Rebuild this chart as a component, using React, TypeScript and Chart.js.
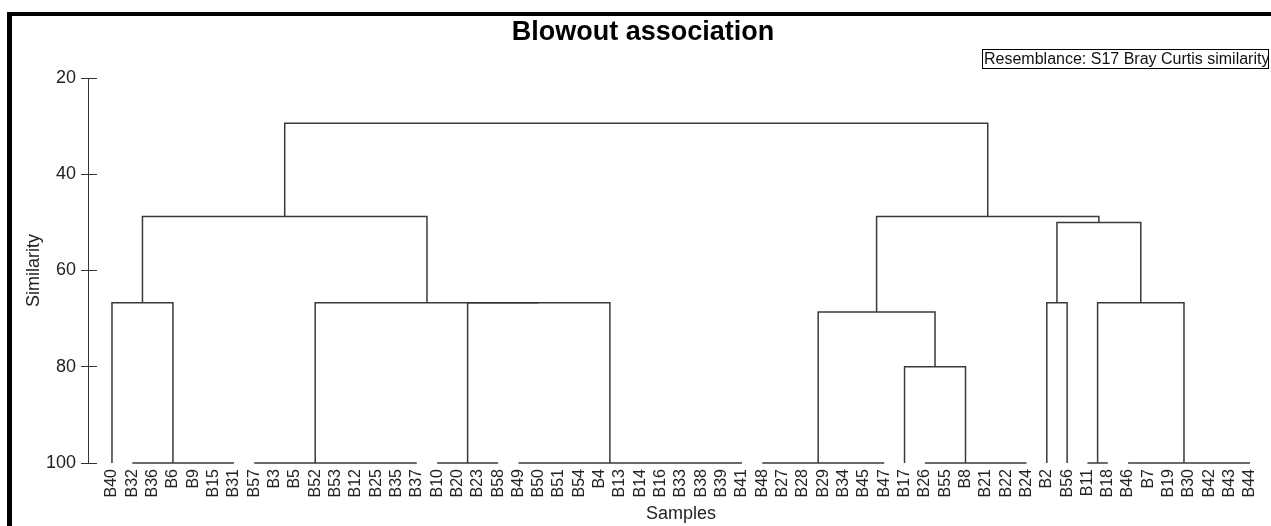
import React, { useEffect, useRef } from "react";
import { Chart, registerables } from "chart.js";

Chart.register(...registerables);

const chartTitle = "Blowout association";
const resemblanceNote = "Resemblance: S17 Bray Curtis similarity";
const xAxisTitle = "Samples";
const yAxisTitle = "Similarity";

// Leaf order of the dendrogram (x axis categories)
const sampleLabels = [
  "B40", "B32", "B36", "B6", "B9", "B15", "B31", "B57", "B3", "B5", "B52", "B53",
  "B12", "B25", "B35", "B37", "B10", "B20", "B23", "B58", "B49", "B50", "B51", "B54",
  "B4", "B13", "B14", "B16", "B33", "B38", "B39", "B41", "B48", "B27", "B28", "B29",
  "B34", "B45", "B47", "B17", "B26", "B55", "B8", "B21", "B22", "B24", "B2", "B56",
  "B11", "B18", "B46", "B7", "B19", "B30", "B42", "B43", "B44",
];

// Similarity axis ticks
const yTicks = [20, 40, 60, 80, 100];

// Groups of samples that are 100% similar: first leaf, last leaf, stem (leaf index units)
const groupNames = ["g1", "g2", "g3", "g4", "g5", "g6", "g7", "g8"];
const groupFirst = ["B32", "B57", "B10", "B49", "B48", "B26", "B11", "B46"];
const groupLast = ["B31", "B37", "B58", "B41", "B47", "B24", "B18", "B44"];
const groupStem = [3, 10, 17.5, 24.5, 34.75, 42, 48.5, 52.75];

// Merges (m1..m11 in order): left child, right child, similarity level
const mergeLeft = ["B40", "g3", "g2", "m1", "B17", "g5", "B2", "g7", "m7", "m6", "m4"];
const mergeRight = ["g1", "g4", "m2", "m3", "g6", "m5", "B56", "g8", "m8", "m9", "m10"];
const mergeSimilarity = [66.7, 66.7, 66.7, 48.8, 80, 68.6, 66.7, 66.7, 50, 48.8, 29.4];

const X_MIN = -1.18;
const X_MAX = 57.18;

const FONT = "'Liberation Sans', Arial, sans-serif";
const LINE_COLOR = "#3a3a3a";

function buildSegments() {
  const nodeX: Record<string, number> = {};
  const nodeH: Record<string, number> = {};
  sampleLabels.forEach((l, i) => {
    nodeX[l] = i;
    nodeH[l] = 100;
  });
  const segs: { x: number; y: number }[][] = [];
  groupNames.forEach((g, i) => {
    nodeX[g] = groupStem[i];
    nodeH[g] = 100;
    segs.push([
      { x: sampleLabels.indexOf(groupFirst[i]), y: 100 },
      { x: sampleLabels.indexOf(groupLast[i]), y: 100 },
    ]);
  });
  mergeLeft.forEach((l, i) => {
    const r = mergeRight[i];
    const h = mergeSimilarity[i];
    const name = "m" + (i + 1);
    nodeX[name] = (nodeX[l] + nodeX[r]) / 2;
    nodeH[name] = h;
    segs.push([
      { x: nodeX[l], y: nodeH[l] },
      { x: nodeX[l], y: h },
      { x: nodeX[r], y: h },
      { x: nodeX[r], y: nodeH[r] },
    ]);
  });
  return segs;
}

const innerTicks = {
  id: "innerTicks",
  afterDraw(chart: any) {
    const ys = chart.scales.y;
    const ctx = chart.ctx;
    const left = chart.chartArea.left;
    ctx.save();
    ctx.strokeStyle = "#333";
    ctx.lineWidth = 1;
    ctx.beginPath();
    ys.ticks.forEach((t: any) => {
      const py = Math.round(ys.getPixelForValue(t.value) - 0.5) + 0.5;
      ctx.moveTo(left, py);
      ctx.lineTo(left + 9, py);
    });
    ctx.stroke();
    ctx.restore();
  },
};

export default function App() {
  const ref = useRef<HTMLCanvasElement>(null);

  useEffect(() => {
    if (!ref.current) return;
    const datasets = buildSegments().map((seg) => ({
      data: seg,
      borderColor: LINE_COLOR,
      borderWidth: 1.5,
      pointRadius: 0,
      fill: false,
      tension: 0,
      clip: false as any,
    }));
    const chart = new Chart(ref.current, {
      type: "line",
      data: { datasets },
      options: {
        animation: false,
        responsive: false,
        maintainAspectRatio: false,
        events: [],
        parsing: false,
        layout: { padding: { left: 0, right: 4, top: 0, bottom: 0 } },
        plugins: {
          legend: { display: false },
          tooltip: { enabled: false },
          title: {
            display: true,
            text: chartTitle,
            color: "#000",
            font: { family: FONT, size: 27, weight: "bold" },
            padding: { top: 0, bottom: 29.6 },
          },
        },
        scales: {
          x: {
            type: "linear",
            min: X_MIN,
            max: X_MAX,
            afterBuildTicks: (s: any) => {
              s.ticks = sampleLabels.map((_, i) => ({ value: i }));
            },
            afterFit: (s: any) => {
              s.height = 63;
            },
            grid: { display: false, drawTicks: false },
            border: { display: false },
            ticks: {
              autoSkip: false,
              minRotation: 90,
              maxRotation: 90,
              padding: 6,
              color: "#222",
              font: { family: FONT, size: 16 },
              callback: (v: any) => sampleLabels[Math.round(Number(v))] ?? "",
            },
            title: {
              display: true,
              text: xAxisTitle,
              color: "#222",
              font: { family: FONT, size: 18 },
              padding: { top: 0, bottom: 1 },
            },
          },
          y: {
            type: "linear",
            reverse: true,
            min: 20,
            max: 100,
            afterBuildTicks: (s: any) => {
              s.ticks = yTicks.map((v) => ({ value: v }));
            },
            afterFit: (s: any) => {
              s.width = 76;
            },
            grid: { drawOnChartArea: false, drawTicks: true, tickLength: 7, color: "#333", lineWidth: 1 },
            border: { display: true, color: "#333", width: 1 },
            ticks: { padding: 5, color: "#222", font: { family: FONT, size: 18 } },
            title: {
              display: true,
              text: yAxisTitle,
              color: "#222",
              font: { family: FONT, size: 18 },
              padding: { top: 11, bottom: 0 },
            },
          },
        },
      } as any,
      plugins: [innerTicks],
    });
    return () => chart.destroy();
  }, []);

  return (
    <div style={{ position: "fixed", left: 0, top: 0, width: "100vw", height: "100vh", overflow: "hidden", background: "#fff" }}>
      <div
        style={{
          position: "absolute",
          left: 7,
          top: 12,
          width: 1400,
          height: 700,
          borderLeft: "5px solid #000",
          borderTop: "4px solid #000",
          boxSizing: "border-box",
        }}
      />
      <canvas ref={ref} width={1266} height={510} style={{ position: "absolute", left: 12, top: 16, display: "block" }} />
      <div
        style={{
          position: "absolute",
          left: 982,
          top: 49,
          width: 287,
          height: 20,
          border: "1px solid #000",
          boxSizing: "border-box",
          fontFamily: FONT,
          fontSize: 16,
          lineHeight: "18px",
          paddingLeft: 1,
          whiteSpace: "nowrap",
          overflow: "hidden",
          color: "#111",
        }}
      >
        {resemblanceNote}
      </div>
    </div>
  );
}
